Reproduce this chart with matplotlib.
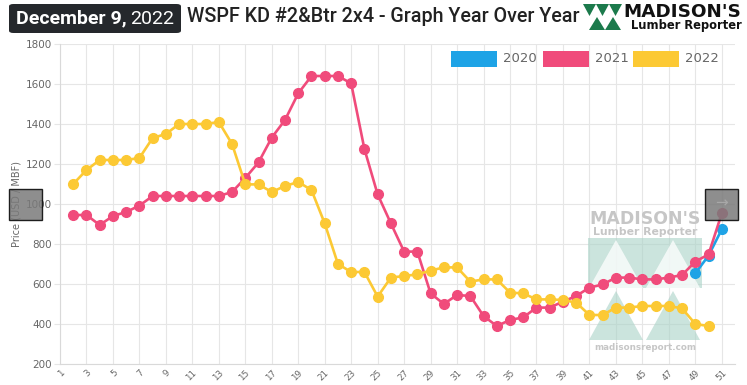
import numpy as np
import matplotlib
matplotlib.use('Agg')
import matplotlib.pyplot as plt
from matplotlib.patches import FancyBboxPatch, Rectangle, Polygon

# weekly prices (USD / MBF), week 1..52, None = no data
weeks = list(range(1, 53))
y2020 = [None] * 48 + [653, 742, 873, None]
y2021 = [None, 945, 945, 895, 940, 960, 992, 1040, 1040, 1040, 1040, 1040, 1040,
         1060, 1130, 1208, 1332, 1420, 1553, 1640, 1640, 1640, 1603, 1275, 1048,
         903, 762, 762, 553, 500, 545, 540, 440, 390, 420, 433, 482, 482, 512,
         540, 582, 598, 632, 632, 623, 623, 632, 645, 712, 748, 953, None]
y2022 = [None, 1100, 1170, 1220, 1220, 1220, 1230, 1330, 1350, 1400, 1400, 1400, 1410,
         1300, 1098, 1098, 1060, 1090, 1110, 1070, 903, 700, 660, 660, 537,
         632, 640, 648, 667, 683, 683, 612, 623, 623, 557, 553, 523, 523, 520,
         507, 445, 445, 482, 482, 490, 490, 490, 478, 400, 390, None, None]
years = ['2020', '2021', '2022']
colors = ['#1ea3e6', '#f04b7b', '#fcc934']
x_ticks = list(range(1, 52, 2))
y_ticks = list(range(200, 1801, 200))

W, H = 747, 385


def fx(px):
    return px / W


def fy(py):
    return 1 - py / H


fig = plt.figure(figsize=(W / 100, H / 100), dpi=100)
ax = fig.add_axes([fx(60), fy(364), (735 - 60) / W, (364 - 44) / H])
ax.set_zorder(1)
ax.set_facecolor('none')

# watermark (between grid and lines)
teal = '#a9d2c7'
wm_kw = dict(closed=True, transform=fig.transFigure, ec='none', zorder=1.5)
ax.add_patch(Polygon([(fx(588), fy(238)), (fx(702), fy(238)), (fx(702), fy(288)), (fx(588), fy(288))],
                     fc=teal, alpha=0.6, **wm_kw))
for cx in (616, 673):
    ax.add_patch(Polygon([(fx(cx - 27), fy(288)), (fx(cx), fy(240)), (fx(cx + 27), fy(288))],
                         fc='white', alpha=0.75, **wm_kw))
    ax.add_patch(Polygon([(fx(cx - 27), fy(340)), (fx(cx), fy(291)), (fx(cx + 27), fy(340))],
                         fc=teal, alpha=0.6, **wm_kw))
ax.text(fx(645), fy(219), "MADISON'S", ha='center', va='center', fontsize=12.5,
        fontweight='bold', color='#c6c6c6', family='DejaVu Sans', transform=fig.transFigure, zorder=1.6)
ax.text(fx(645), fy(232), "Lumber Reporter", ha='center', va='center', fontsize=7.8,
        fontweight='bold', color='#c6c6c6', family='DejaVu Sans', transform=fig.transFigure, zorder=1.6)
ax.text(fx(645), fy(347), "madisonsreport.com", ha='center', va='center', fontsize=6.3,
        fontweight='bold', color='#c6c6c6', family='DejaVu Sans', transform=fig.transFigure, zorder=1.6)

series = [y2020, y2021, y2022]
for vals, c in zip(series, colors):
    v = np.array([np.nan if a is None else a for a in vals], dtype=float)
    ax.plot(weeks, v, color=c, lw=1.9, marker='o', ms=7, mec=c, mfc=c, zorder=3)

ax.set_xlim(1, 52)
ax.set_ylim(200, 1800)
ax.set_xticks(x_ticks)
ax.set_xticklabels([str(t) for t in x_ticks], rotation=45, ha='right', va='top',
                   rotation_mode='anchor', fontsize=6.3, color='#666666')
ax.set_yticks(y_ticks)
ax.set_yticklabels([str(t) for t in y_ticks], fontsize=7.5, color='#666666')
ax.grid(True, color='#e6e6e6', lw=0.8, zorder=0)
ax.set_axisbelow(True)
ax.tick_params(axis='y', length=4, color='#e6e6e6', pad=2)
ax.tick_params(axis='x', length=0, pad=3)
for s in ['top', 'right']:
    ax.spines[s].set_visible(False)
for s in ['left', 'bottom']:
    ax.spines[s].set_color('#d9d9d9')
ax.set_ylabel('Price (USD / MBF)', fontsize=7, color='#666666', labelpad=3)

# legend boxes
leg_x = [451, 543, 633]
for lx, c, yr in zip(leg_x, colors, years):
    fig.patches.append(Rectangle((fx(lx), fy(67)), 46 / W, 16 / H, transform=fig.transFigure,
                                 fc=c, ec='none'))
    fig.text(fx(lx + 52), fy(59), yr, ha='left', va='center', fontsize=9.5, color='#666666')

# grey scroll widgets
for bx in (9, 705):
    fig.patches.append(Rectangle((fx(bx), fy(220)), 33 / W, 31 / H, transform=fig.transFigure,
                                 fc='#7a7a7a', ec='black', lw=1, alpha=0.85, zorder=5))
fig.text(fx(721), fy(203), '→', ha='center', va='center', fontsize=11, color='#a8a8a8', zorder=6)

# header
fig.patches.append(FancyBboxPatch((fx(9), fy(33)), 172 / W, 29 / H, transform=fig.transFigure,
                                  boxstyle='round,pad=0,rounding_size=0.006', fc='#25282c', ec='none'))
fig.text(fx(16), fy(18.5), 'December 9,', ha='left', va='center', fontsize=14,
         fontweight='bold', color='white', family='Roboto')
fig.text(fx(130), fy(18.5), '2022', ha='left', va='center', fontsize=14,
         color='white', family='Roboto')
fig.text(fx(187), fy(16), 'WSPF KD #2&Btr 2x4 - Graph Year Over Year', ha='left', va='center',
         fontsize=14.2, color='#222222', family='Roboto', fontweight='medium')

# logo
green = '#1c7a4c'
for i in range(3):
    x0 = 583 + i * 13
    fig.patches.append(Polygon([(fx(x0), fy(4)), (fx(x0 + 13), fy(4)), (fx(x0 + 6.5), fy(16))],
                               closed=True, transform=fig.transFigure, fc=green, ec='none'))
for i in range(2):
    x0 = 589 + i * 16
    fig.patches.append(Polygon([(fx(x0), fy(30)), (fx(x0 + 16), fy(30)), (fx(x0 + 8), fy(17))],
                               closed=True, transform=fig.transFigure, fc=green, ec='none'))
fig.text(fx(623), fy(12), "MADISON'S", ha='left', va='center', fontsize=13.2,
         fontweight='heavy', color='#111111', family='DejaVu Sans')
fig.text(fx(631), fy(26), "Lumber Reporter", ha='left', va='center', fontsize=8.3,
         fontweight='bold', color='#111111', family='DejaVu Sans')

fig.savefig('out.png', dpi=100)
